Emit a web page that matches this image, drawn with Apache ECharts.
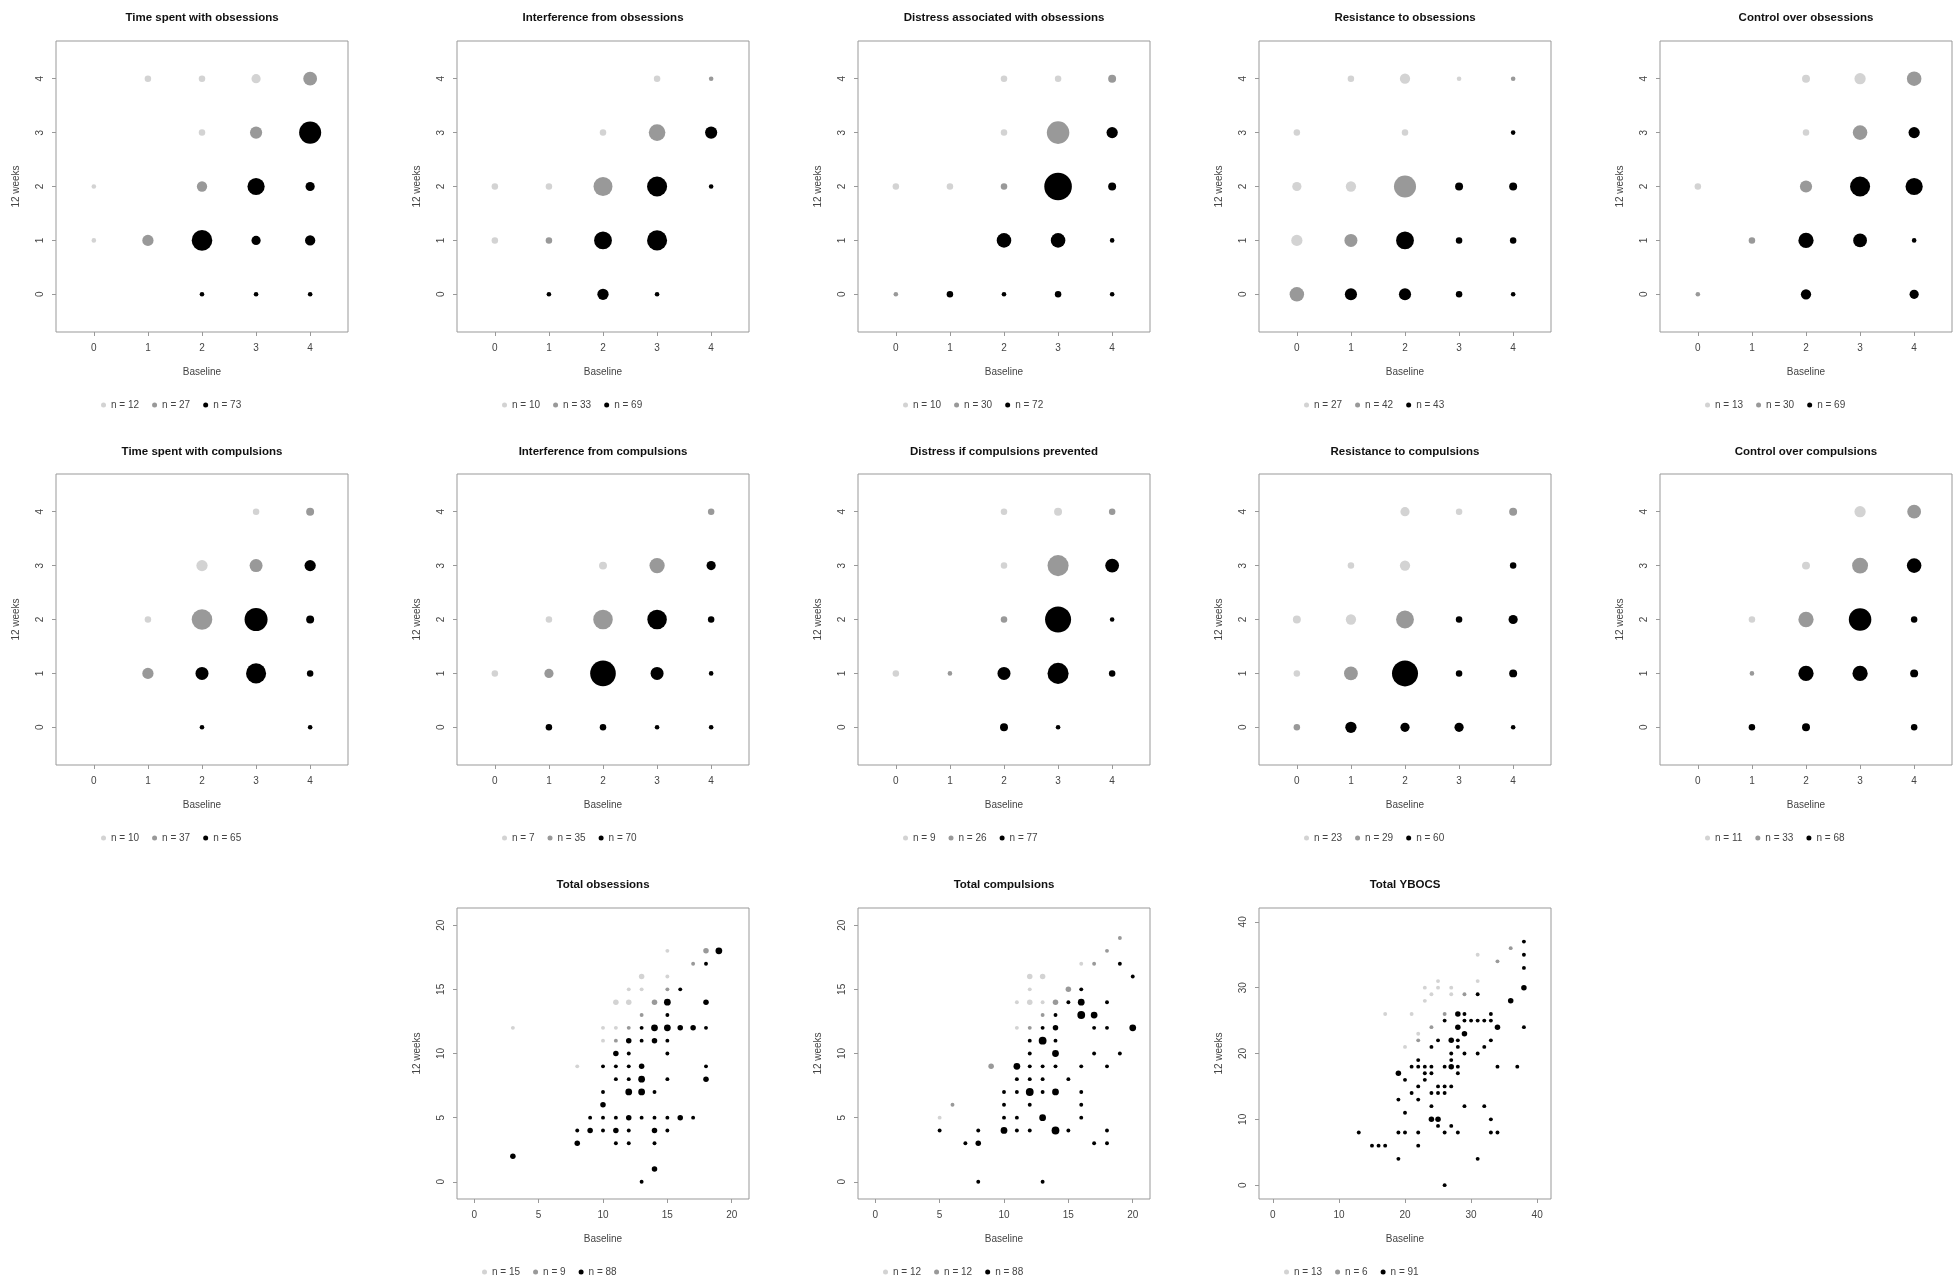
<!DOCTYPE html>
<html>
<head>
<meta charset="utf-8">
<script src="https://cdn.jsdelivr.net/npm/echarts@6/dist/echarts.min.js"></script>
<style>
    html, body { margin: 0; padding: 0; background: #fff; }
    #main { width: 1958px; height: 1286px; }
</style>
</head>
<body>
<div id="main"></div>
<script>
// each point: [baseline, 12 weeks, number of patients]
// Up = worse at 12 weeks (light), Same = unchanged (grey), Down = improved (black)

// Time spent with obsessions
var timeObsUp = [[0, 1, 1], [0, 2, 1], [1, 4, 2], [2, 3, 2], [2, 4, 2], [3, 4, 4]];
var timeObsSame = [[1, 1, 6], [2, 2, 5], [3, 3, 7], [4, 4, 9]];
var timeObsDown = [[2, 1, 20], [2, 0, 1], [3, 2, 14], [3, 1, 4], [3, 0, 1], [4, 3, 23], [4, 2, 4], [4, 1, 5], [4, 0, 1]];

// Interference from obsessions
var intObsUp = [[0, 1, 2], [0, 2, 2], [1, 2, 2], [2, 3, 2], [3, 4, 2]];
var intObsSame = [[1, 1, 2], [2, 2, 17], [3, 3, 13], [4, 4, 1]];
var intObsDown = [[2, 1, 15], [3, 1, 19], [3, 2, 19], [4, 3, 7], [2, 0, 6], [1, 0, 1], [3, 0, 1], [4, 2, 1]];

// Distress associated with obsessions
var disObsUp = [[0, 2, 2], [1, 2, 2], [2, 3, 2], [2, 4, 2], [3, 4, 2]];
var disObsSame = [[0, 0, 1], [2, 2, 2], [3, 3, 24], [4, 4, 3]];
var disObsDown = [[3, 2, 36], [2, 1, 10], [3, 1, 10], [4, 3, 6], [4, 2, 3], [4, 1, 1], [1, 0, 2], [2, 0, 1], [3, 0, 2], [4, 0, 1]];

// Resistance to obsessions
var resObsUp = [[0, 1, 6], [0, 2, 4], [0, 3, 2], [1, 2, 5], [1, 4, 2], [2, 3, 2], [2, 4, 5], [3, 4, 1]];
var resObsSame = [[0, 0, 10], [1, 1, 8], [2, 2, 23], [4, 4, 1]];
var resObsDown = [[1, 0, 7], [2, 0, 7], [2, 1, 15], [3, 0, 2], [3, 1, 2], [3, 2, 3], [4, 0, 1], [4, 1, 2], [4, 2, 3], [4, 3, 1]];

// Control over obsessions
var conObsUp = [[0, 2, 2], [2, 3, 2], [2, 4, 3], [3, 4, 6]];
var conObsSame = [[0, 0, 1], [1, 1, 2], [2, 2, 7], [3, 3, 10], [4, 4, 10]];
var conObsDown = [[2, 1, 11], [3, 1, 9], [3, 2, 19], [4, 2, 14], [4, 3, 6], [4, 1, 1], [2, 0, 5], [4, 0, 4]];

// Time spent with compulsions
var timeComUp = [[1, 2, 2], [2, 3, 6], [3, 4, 2]];
var timeComSame = [[1, 1, 6], [2, 2, 20], [3, 3, 8], [4, 4, 3]];
var timeComDown = [[2, 1, 8], [3, 1, 19], [3, 2, 25], [4, 3, 6], [4, 2, 3], [4, 1, 2], [2, 0, 1], [4, 0, 1]];

// Interference from compulsions
var intComUp = [[0, 1, 2], [1, 2, 2], [2, 3, 3]];
var intComSame = [[1, 1, 4], [2, 2, 18], [3, 3, 11], [4, 4, 2]];
var intComDown = [[2, 1, 31], [3, 1, 8], [3, 2, 18], [4, 3, 4], [4, 2, 2], [4, 1, 1], [1, 0, 2], [2, 0, 2], [3, 0, 1], [4, 0, 1]];

// Distress if compulsions prevented
var disComUp = [[0, 1, 2], [2, 3, 2], [2, 4, 2], [3, 4, 3]];
var disComSame = [[1, 1, 1], [2, 2, 2], [3, 3, 21], [4, 4, 2]];
var disComDown = [[3, 2, 32], [3, 1, 21], [2, 1, 8], [4, 3, 9], [4, 2, 1], [4, 1, 2], [2, 0, 3], [3, 0, 1]];

// Resistance to compulsions
var resComUp = [[0, 1, 2], [0, 2, 3], [1, 2, 5], [1, 3, 2], [2, 3, 5], [2, 4, 4], [3, 4, 2]];
var resComSame = [[0, 0, 2], [1, 1, 9], [2, 2, 15], [4, 4, 3]];
var resComDown = [[2, 1, 32], [1, 0, 6], [2, 0, 4], [3, 0, 4], [4, 0, 1], [3, 1, 2], [4, 1, 3], [3, 2, 2], [4, 2, 4], [4, 3, 2]];

// Control over compulsions
var conComUp = [[1, 2, 2], [2, 3, 3], [3, 4, 6]];
var conComSame = [[1, 1, 1], [2, 2, 11], [3, 3, 12], [4, 4, 9]];
var conComDown = [[3, 2, 24], [2, 1, 11], [3, 1, 11], [4, 3, 10], [4, 2, 2], [4, 1, 3], [1, 0, 2], [2, 0, 3], [4, 0, 2]];

// Total obsessions
var totObsUp = [[3, 12, 1], [8, 9, 1], [10, 12, 1], [10, 11, 1], [11, 12, 1], [11, 14, 2], [12, 14, 2], [12, 15, 1],
    [13, 15, 1], [13, 16, 2], [15, 18, 1], [15, 16, 1]];
var totObsSame = [[11, 11, 1], [12, 12, 1], [13, 13, 1], [14, 14, 2], [15, 15, 1], [17, 17, 1], [18, 18, 2]];
var totObsDown = [[19, 18, 3], [18, 17, 1], [16, 15, 1], [15, 14, 3], [18, 14, 2], [15, 13, 1],
    [13, 12, 1], [14, 12, 3], [15, 12, 3], [16, 12, 2], [17, 12, 2], [18, 12, 1],
    [12, 11, 2], [13, 11, 1], [14, 11, 2], [15, 11, 1],
    [11, 10, 2], [12, 10, 1], [15, 10, 1],
    [10, 9, 1], [11, 9, 1], [12, 9, 1], [13, 9, 2], [18, 9, 1],
    [11, 8, 1], [12, 8, 1], [13, 8, 3], [15, 8, 1], [18, 8, 2],
    [10, 7, 1], [12, 7, 3], [13, 7, 3], [14, 7, 1],
    [10, 6, 2],
    [9, 5, 1], [10, 5, 1], [11, 5, 1], [12, 5, 2], [13, 5, 1], [14, 5, 1], [15, 5, 1], [16, 5, 2], [17, 5, 1],
    [8, 4, 1], [9, 4, 2], [10, 4, 1], [11, 4, 2], [12, 4, 1], [14, 4, 2], [15, 4, 1],
    [8, 3, 2], [11, 3, 1], [12, 3, 1], [14, 3, 1],
    [3, 2, 2], [14, 1, 2], [13, 0, 1]];

// Total compulsions
var totComUp = [[11, 14, 1], [12, 16, 2], [13, 16, 2], [12, 15, 1], [12, 14, 2], [13, 14, 1], [11, 12, 1], [16, 17, 1], [5, 5, 1]];
var totComSame = [[6, 6, 1], [9, 9, 2], [12, 12, 1], [13, 13, 1], [14, 14, 2], [15, 15, 2], [17, 17, 1], [18, 18, 1], [19, 19, 1]];
var totComDown = [[19, 17, 1], [20, 16, 1], [16, 15, 1], [15, 14, 1], [16, 14, 3], [18, 14, 1],
    [14, 13, 1], [16, 13, 4], [17, 13, 3],
    [13, 12, 1], [14, 12, 2], [17, 12, 1], [18, 12, 1], [20, 12, 3],
    [12, 11, 1], [13, 11, 4], [14, 11, 1],
    [12, 10, 1], [14, 10, 3], [17, 10, 1], [19, 10, 1],
    [11, 9, 3], [12, 9, 1], [13, 9, 1], [14, 9, 1], [16, 9, 1], [18, 9, 1],
    [11, 8, 1], [12, 8, 1], [13, 8, 1], [15, 8, 1],
    [10, 7, 1], [11, 7, 1], [12, 7, 4], [13, 7, 1], [14, 7, 3], [16, 7, 1],
    [10, 6, 1], [12, 6, 1], [16, 6, 1],
    [10, 5, 1], [11, 5, 1], [13, 5, 3], [16, 5, 1],
    [5, 4, 1], [8, 4, 1], [10, 4, 3], [11, 4, 1], [12, 4, 1], [14, 4, 4], [15, 4, 1], [18, 4, 1],
    [7, 3, 1], [8, 3, 2], [17, 3, 1], [18, 3, 1],
    [8, 0, 1], [13, 0, 1]];

// Total YBOCS
var totYbUp = [[17, 26, 1], [21, 26, 1], [20, 21, 1], [22, 23, 1], [23, 30, 1], [23, 28, 1], [24, 29, 1],
    [25, 31, 1], [25, 30, 1], [27, 30, 1], [27, 29, 1], [31, 35, 1], [31, 31, 1]];
var totYbSame = [[22, 22, 1], [24, 24, 1], [26, 26, 1], [29, 29, 1], [34, 34, 1], [36, 36, 1]];
var totYbDown = [[38, 37, 1], [38, 35, 1], [38, 33, 1], [38, 30, 2], [31, 29, 1], [36, 28, 2],
    [28, 26, 2], [29, 26, 1], [33, 26, 1],
    [26, 25, 1], [29, 25, 1], [30, 25, 1], [31, 25, 1], [32, 25, 1], [33, 25, 1],
    [28, 24, 2], [34, 24, 2], [38, 24, 1],
    [29, 23, 2],
    [25, 22, 1], [27, 22, 2], [28, 22, 1], [33, 22, 1],
    [24, 21, 1], [28, 21, 1], [32, 21, 1],
    [27, 20, 1], [29, 20, 1], [31, 20, 1],
    [22, 19, 1], [27, 19, 1],
    [21, 18, 1], [22, 18, 1], [23, 18, 1], [24, 18, 1], [26, 18, 1], [27, 18, 2], [28, 18, 1], [34, 18, 1], [37, 18, 1],
    [19, 17, 2], [23, 17, 1], [24, 17, 1], [28, 17, 1],
    [20, 16, 1], [23, 16, 1],
    [22, 15, 1], [25, 15, 1], [26, 15, 1], [27, 15, 1],
    [21, 14, 1], [24, 14, 1], [25, 14, 1], [26, 14, 1],
    [19, 13, 1], [22, 13, 1],
    [24, 12, 1], [29, 12, 1], [32, 12, 1],
    [20, 11, 1],
    [24, 10, 2], [25, 10, 2], [33, 10, 1],
    [25, 9, 1], [27, 9, 1],
    [13, 8, 1], [19, 8, 1], [20, 8, 1], [22, 8, 1], [26, 8, 1], [28, 8, 1], [33, 8, 1], [34, 8, 1],
    [15, 6, 1], [16, 6, 1], [17, 6, 1], [22, 6, 1],
    [19, 4, 1], [31, 4, 1],
    [26, 0, 1]];

var titles = [
    'Time spent with obsessions', 'Interference from obsessions', 'Distress associated with obsessions',
    'Resistance to obsessions', 'Control over obsessions',
    'Time spent with compulsions', 'Interference from compulsions', 'Distress if compulsions prevented',
    'Resistance to compulsions', 'Control over compulsions',
    'Total obsessions', 'Total compulsions', 'Total YBOCS'
];
// n shown in each legend: worse, unchanged, improved
var legendN = [
    [12, 27, 73], [10, 33, 69], [10, 30, 72], [27, 42, 43], [13, 30, 69],
    [10, 37, 65], [7, 35, 70], [9, 26, 77], [23, 29, 60], [11, 33, 68],
    [15, 9, 88], [12, 12, 88], [13, 6, 91]
];
var itemTicks = [0, 1, 2, 3, 4];
var subTicks = [0, 5, 10, 15, 20];
var ybocsTicks = [0, 10, 20, 30, 40];

(function () {
    var chartDom = document.getElementById('main');
    var myChart = echarts.init(chartDom);
    var option;

    var font = 'Liberation Sans, Arial, sans-serif';
    var colors = ['#d3d3d3', '#999999', '#000000'];
    var colLeft = [56, 457, 858, 1259, 1660];
    var rowTop = [41, 474, 908];
    var titleTop = [12, 446, 879];
    var legendTop = [400, 833, 1267];
    var boxW = 292, boxH = 291;

    var panels = [
        { d: [timeObsUp, timeObsSame, timeObsDown], row: 0, col: 0 },
        { d: [intObsUp, intObsSame, intObsDown], row: 0, col: 1 },
        { d: [disObsUp, disObsSame, disObsDown], row: 0, col: 2 },
        { d: [resObsUp, resObsSame, resObsDown], row: 0, col: 3 },
        { d: [conObsUp, conObsSame, conObsDown], row: 0, col: 4 },
        { d: [timeComUp, timeComSame, timeComDown], row: 1, col: 0 },
        { d: [intComUp, intComSame, intComDown], row: 1, col: 1 },
        { d: [disComUp, disComSame, disComDown], row: 1, col: 2 },
        { d: [resComUp, resComSame, resComDown], row: 1, col: 3 },
        { d: [conComUp, conComSame, conComDown], row: 1, col: 4 },
        { d: [totObsUp, totObsSame, totObsDown], row: 2, col: 1, ticks: subTicks, range: [-1.34, 21.34] },
        { d: [totComUp, totComSame, totComDown], row: 2, col: 2, ticks: subTicks, range: [-1.34, 21.34] },
        { d: [totYbUp, totYbSame, totYbDown], row: 2, col: 3, ticks: ybocsTicks, range: [-2.1, 42.1] }
    ];

    var grid = [], xAxis = [], yAxis = [], series = [], title = [], legend = [];
    var legendLabels = {};

    panels.forEach(function (p, i) {
        var ticks = p.ticks || itemTicks;
        var range = p.range || [-0.7, 4.7];
        var k = p.ticks ? 3.9 : 4.6;
        var left = colLeft[p.col];
        var top = rowTop[p.row];

        grid.push({
            left: left, top: top, width: boxW, height: boxH,
            show: true, borderColor: '#999', borderWidth: 1, backgroundColor: 'transparent'
        });

        title.push({
            text: titles[i],
            left: left + boxW / 2,
            top: titleTop[p.row],
            padding: 0,
            textAlign: 'center',
            textStyle: { fontSize: 11.5, fontWeight: 'bold', color: '#111', fontFamily: font }
        });

        var axisCommon = function (name) {
            return {
                type: 'value',
                gridIndex: i,
                min: range[0],
                max: range[1],
                name: name,
                nameLocation: 'middle',
                nameGap: 35,
                nameTextStyle: { fontSize: 10, color: '#444', fontFamily: font },
                axisLine: { show: false, onZero: false },
                axisTick: { show: true, length: 4, customValues: ticks, lineStyle: { color: '#999' } },
                axisLabel: { customValues: ticks, fontSize: 10, color: '#444', margin: 11, fontFamily: font },
                splitLine: { show: false }
            };
        };
        xAxis.push(axisCommon('Baseline'));
        var ya = axisCommon('12 weeks');
        ya.axisLabel.rotate = 90;
        yAxis.push(ya);

        var names = [];
        p.d.forEach(function (arr, j) {
            var nm = 'p' + i + '_' + j;
            names.push(nm);
            legendLabels[nm] = 'n = ' + legendN[i][j];
            series.push({
                name: nm,
                type: 'scatter',
                xAxisIndex: i,
                yAxisIndex: i,
                data: arr,
                symbol: 'circle',
                symbolSize: function (val) { return k * Math.sqrt(val[2]); },
                itemStyle: { color: colors[j], opacity: 1 },
                emphasis: { disabled: true },
                silent: true,
                z: 2 + j
            });
        });

        legend.push({
            data: names,
            left: left + (p.row === 2 ? 25 : 45),
            top: legendTop[p.row],
            orient: 'horizontal',
            icon: 'circle',
            itemWidth: 5,
            itemHeight: 5,
            itemGap: 13,
            padding: 0,
            selectedMode: false,
            formatter: function (name) { return legendLabels[name]; },
            textStyle: { fontSize: 10, color: '#444', fontFamily: font }
        });
    });

    option = {
        backgroundColor: '#fff',
        animation: false,
        title: title,
        legend: legend,
        grid: grid,
        xAxis: xAxis,
        yAxis: yAxis,
        series: series
    };

    option && myChart.setOption(option);
})();
</script>
</body>
</html>
